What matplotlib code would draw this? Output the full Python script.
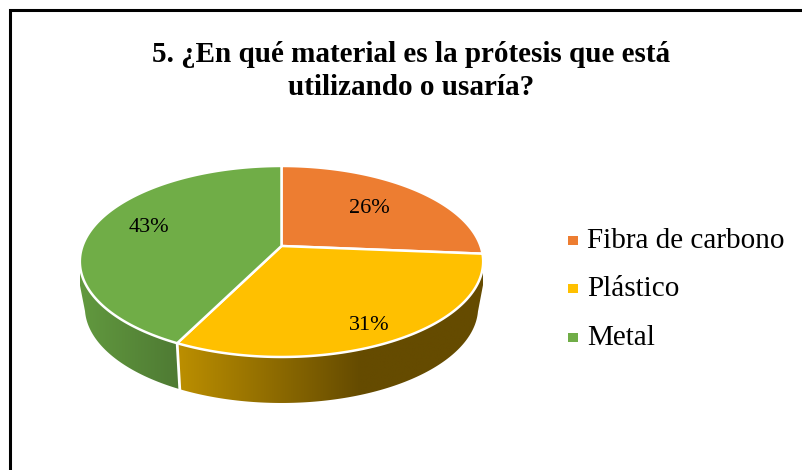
import numpy as np
import matplotlib
matplotlib.use('Agg')
import matplotlib.pyplot as plt
from matplotlib.colors import LinearSegmentedColormap
from matplotlib.patches import Polygon, Rectangle

# Data (labels show them rounded)
title = "5. ¿En qué material es la prótesis que está\nutilizando o usaría?"
categories = ["Fibra de carbono", "Plástico", "Metal"]
values = [26.3, 31.1, 42.6]
colors = ["#ED7D31", "#FFC000", "#70AD47"]
# side wall shading, left -> right
side_colors = {"Plástico": [(0, "#BC8F00"), (0.6, "#654B00"), (1, "#654B00")],
               "Metal": [(0, "#62993F"), (1, "#4E7A33")]}

plt.rcParams['font.family'] = ['Liberation Serif', 'DejaVu Serif']

# Pie geometry, pixels of the 802x470 picture
cx, cy = 281.5, 246
rx, ry = 199, 93
persp = 0.162
depth = 46
base_scale = 0.975
corner_drop = 23


def project(theta, r=1.0):
    # theta clockwise from the top of the pie
    X = r * np.sin(theta)
    Y = r * np.cos(theta)
    w = 1 + persp * Y
    return cx + rx * X / w, cy - ry * Y / w


def project_base(theta):
    x, y = project(theta)
    return cx + base_scale * (x - cx), y + depth


fig = plt.figure(figsize=(8.02, 4.70), dpi=100)
ax = fig.add_axes([0, 0, 1, 1])

# outer frame of the chart, only top and left are inside the picture
ax.plot([10, 10, 802], [470, 10, 10], color='black', lw=2.2, solid_joinstyle='miter')

fractions = np.array(values) / sum(values)
edges = np.concatenate([[0], np.cumsum(fractions)]) * 2 * np.pi

# side walls first, gradient clipped to the wall outline
for i, name in enumerate(categories):
    if name not in side_colors:
        continue
    t = np.linspace(edges[i], edges[i + 1], 300)
    xs, ys = project(t[np.cos(t) < -0.02])
    bx, by = project_base(t[np.cos(t) < -0.2])
    # both arcs left to right, so the outline is easy to close
    order = np.argsort(xs)
    xs, ys = xs[order], ys[order]
    order = np.argsort(bx)
    bx, by = bx[order], by[order]
    px = list(xs)
    py = list(ys)
    # outer end of the wall: drops straight down from the widest point of the top face
    outer_right = abs(xs[-1] - cx) > abs(xs[0] - cx)
    if outer_right:
        px.append(xs[-1])
        py.append(ys[-1] + corner_drop)
    px += list(bx[::-1])
    py += list(by[::-1])
    if not outer_right:
        px.append(xs[0])
        py.append(ys[0] + corner_drop)
    outline = Polygon(np.column_stack([px, py]), fc='none', ec='none', transform=ax.transData)
    ax.add_patch(outline)
    x_min, x_max = min(px), max(px)
    cmap = LinearSegmentedColormap.from_list(name, side_colors[name])
    im = ax.imshow(np.linspace(0, 1, 256).reshape(1, -1), cmap=cmap, aspect='auto',
                   extent=(x_min, x_max, 420, 240), zorder=2, interpolation='bilinear')
    im.set_clip_path(outline)

# white seam between the two walls
xt, yt = project(edges[2])
xb, yb = project_base(edges[2])
ax.plot([xt, xb], [yt, yb], color='white', lw=2, zorder=3)

# top face
for i, name in enumerate(categories):
    t = np.linspace(edges[i], edges[i + 1], 200)
    xs, ys = project(t)
    pts = np.column_stack([np.r_[cx, xs], np.r_[cy, ys]])
    ax.add_patch(Polygon(pts, fc=colors[i], ec='white', lw=1.8, joinstyle='round', zorder=4))

# percentage labels
label_r = [0.60, 0.84, 0.70]
label_shift = [(5, -2), (-5, 2), (0, -4)]
for i, v in enumerate(values):
    mid = (edges[i] + edges[i + 1]) / 2
    lx, ly = project(mid, r=label_r[i])
    ax.text(lx + label_shift[i][0], ly + label_shift[i][1], f"{round(v)}%", fontsize=16,
            ha='center', va='center', color='black', zorder=5)

ax.text(411, 71, title, fontsize=21, fontweight='bold', ha='center', va='center',
        linespacing=1.25, color='black')

# legend
for name, c, ly in zip(categories, colors, [240, 288, 337]):
    ax.add_patch(Rectangle((568, ly - 4.5), 10, 9, fc=c, ec='none'))
    ax.text(587, ly + 1, name, fontsize=21, ha='left', va='center', color='black')

ax.set_xlim(0, 802)
ax.set_ylim(470, 0)
ax.axis('off')

fig.savefig('out.png', dpi=100)
